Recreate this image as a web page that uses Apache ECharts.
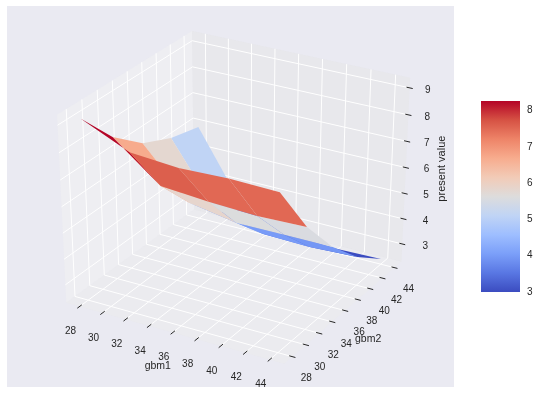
<!DOCTYPE html>
<html>
<head>
<meta charset="utf-8">
<title>present value surface</title>
<script src="https://cdn.jsdelivr.net/npm/echarts@6/dist/echarts.min.js"></script>
<style>
  html, body { margin: 0; padding: 0; background: #fff; }
  #chart { width: 539px; height: 394px; }
</style>
</head>
<body>
<div id="chart"></div>
<script>
const gbm1Values = [28, 32, 36, 40, 44];
const gbm2Values = [28, 32, 36, 40, 44];

// present value, one row per gbm2 value
const presentValue = [
  [9.15, 8.36, 8.22, 8.28, 8.24],
  [7.76, 6.36, 6.21, 6.14, 6.19],
  [6.79, 4.93, 4.61, 4.62, 4.62],
  [6.27, 3.75, 3.37, 3.33, 3.41],
  [5.98, 3.15, 2.60, 2.45, 2.50]
];

// colour value of every facet
const facetValues = [
  [8.26, 7.60, 7.50, 7.50],
  [6.70, 5.85, 5.60, 5.55],
  [5.80, 4.10, 4.00, 3.95],
  [5.10, 3.60, 3.40, 3.00]
];

const xTicks = [28, 30, 32, 34, 36, 38, 40, 42, 44];
const yTicks = [28, 30, 32, 34, 36, 38, 40, 42, 44];
const zTicks = [3, 4, 5, 6, 7, 8, 9];
const colorbarTicks = [3, 4, 5, 6, 7, 8];
const coolwarm = ['#3b4cc0', '#5977e3', '#7b9ff9', '#9ebeff', '#c0d4f5', '#dddcdc', '#f2cbb7', '#f7ac8e', '#ee8468', '#d65244', '#b40426'];

const xLim = [27.2, 44.8];
const yLim = [27.2, 44.8];
const zLim = [2.43, 9.23];
const cbarMin = 3;
const cbarMax = 8.26;
const textColor = '#262626';
const fontFamily = '"Liberation Sans", Arial, sans-serif';

// same camera as a default mplot3d view
const elev = 30 * Math.PI / 180;
const azim = -60 * Math.PI / 180;
const dist = 10;
const n = [Math.cos(elev) * Math.cos(azim), Math.cos(elev) * Math.sin(azim), Math.sin(elev)];
const u = [-n[1], n[0], 0].map(v => v / Math.hypot(n[0], n[1]));
const v = [n[1] * u[2] - n[2] * u[1], n[2] * u[0] - n[0] * u[2], n[0] * u[1] - n[1] * u[0]];
const dot = (a, b) => a[0] * b[0] + a[1] * b[1] + a[2] * b[2];

const toWorld = p => [
  (p[0] - xLim[0]) / (xLim[1] - xLim[0]) - 0.5,
  (p[1] - yLim[0]) / (yLim[1] - yLim[0]) - 0.5,
  (p[2] - zLim[0]) / (zLim[1] - zLim[0]) - 0.5
];
const project = p => {
  const d = toWorld(p);
  const w = dist - dot(d, n);
  return [dot(d, u) / w, dot(d, v) / w];
};

// panes stick out of the limits by 1/48 of the range
const pad = lim => (lim[1] - lim[0]) / 48;
const x0 = xLim[0] - pad(xLim), x1 = xLim[1] + pad(xLim);
const y0 = yLim[0] - pad(yLim), y1 = yLim[1] + pad(yLim);
const z0 = zLim[0] - pad(zLim), z1 = zLim[1] + pad(zLim);

const panes = [
  { color: 'rgba(242,242,242,0.5)', pts: [[x0, y0, z0], [x0, y1, z0], [x0, y1, z1], [x0, y0, z1]] },
  { color: 'rgba(230,230,230,0.5)', pts: [[x0, y1, z0], [x1, y1, z0], [x1, y1, z1], [x0, y1, z1]] },
  { color: 'rgba(236,236,236,0.5)', pts: [[x0, y0, z0], [x1, y0, z0], [x1, y1, z0], [x0, y1, z0]] }
];

const gridLines = [
  ...xTicks.map(t => [[t, y0, z0], [t, y1, z0], [t, y1, z1]]),
  ...yTicks.map(t => [[x1, t, z0], [x0, t, z0], [x0, t, z1]]),
  ...zTicks.map(t => [[x0, y0, t], [x0, y1, t], [x1, y1, t]])
];

const tickMarks = [
  ...xTicks.map(t => [[t, y0 + 0.3, z0], [t, y0 - 0.3, z0]]),
  ...yTicks.map(t => [[x1 - 0.25, t, z0], [x1 + 0.25, t, z0]]),
  ...zTicks.map(t => [[x1 - 0.25, y1, t], [x1 + 0.25, y1, t]])
];

const tickLabels = [
  ...xTicks.map(t => ({ text: String(t), at: [t, y0, z0], dx: -9, dy: 25, size: 10 })),
  ...yTicks.map(t => ({ text: String(t), at: [x1, t, z0], dx: 14, dy: 22, size: 10 })),
  ...zTicks.map(t => ({ text: String(t), at: [x1, y1, t], dx: 23 - (t - 3) * 0.8, dy: 2, size: 10 }))
];

const axisTitles = [
  { text: 'gbm1', at: [36, y0, z0], dx: -15, dy: 34, rotation: 0, size: 10.5 },
  { text: 'gbm2', at: [x1, 36, z0], dx: 23, dy: 28, rotation: 0, size: 10.5 },
  { text: 'present value', at: [x1, y1, 6], dx: 36, dy: 1, rotation: Math.PI / 2, size: 11 }
];

const valueColor = value => {
  const t = Math.min(1, Math.max(0, (value - cbarMin) / (cbarMax - cbarMin))) * (coolwarm.length - 1);
  const i = Math.min(coolwarm.length - 2, Math.floor(t));
  return echarts.color.lerp(t - i, [coolwarm[i], coolwarm[i + 1]]);
};

const facets = [];
for (let j = 0; j < gbm2Values.length - 1; j++) {
  for (let i = 0; i < gbm1Values.length - 1; i++) {
    const pts = [[i, j], [i + 1, j], [i + 1, j + 1], [i, j + 1]].map(([a, b]) => [gbm1Values[a], gbm2Values[b], presentValue[b][a]]);
    const depth = pts.reduce((s, p) => s + dot(toWorld(p), n), 0) / 4;
    facets.push({ pts, depth, color: valueColor(facetValues[j][i]) });
  }
}
// far facets first, near ones paint over them
facets.sort((a, b) => a.depth - b.depth);

const indexData = arr => arr.map((_, i) => [i]);
const custom = (list, renderItem, z) => ({
  type: 'custom',
  data: indexData(list),
  renderItem,
  clip: false,
  silent: true,
  z,
  xAxisIndex: 0,
  yAxisIndex: 0
});
const polyline3d = api => pts => pts.map(p => api.coord(project(p)));

const renderLabel = list => (params, api) => {
  const item = list[params.dataIndex];
  const pos = api.coord(project(item.at));
  return {
    type: 'text',
    x: pos[0] + item.dx,
    y: pos[1] + item.dy,
    rotation: item.rotation || 0,
    style: { text: item.text, fill: textColor, fontSize: item.size, fontFamily, align: 'center', verticalAlign: 'middle' }
  };
};

const chart = echarts.init(document.getElementById('chart'), null, { renderer: 'canvas' });
chart.setOption({
  animation: false,
  grid: [
    { left: 7, top: 6, width: 447, height: 381, show: true, backgroundColor: '#EAEAF2', borderWidth: 0 },
    { left: 481, top: 101, width: 39, height: 191 }
  ],
  xAxis: [
    { type: 'value', gridIndex: 0, min: -0.095, max: 0.09, show: false },
    { type: 'value', gridIndex: 1, min: 0, max: 1, show: false }
  ],
  yAxis: [
    { type: 'value', gridIndex: 0, min: -0.095, max: 0.09, show: false },
    {
      type: 'value',
      gridIndex: 1,
      position: 'right',
      min: cbarMin,
      max: cbarMax,
      axisLine: { show: false },
      axisTick: { show: false },
      splitLine: { show: false },
      axisLabel: { customValues: colorbarTicks, color: textColor, fontSize: 10, fontFamily, margin: 7 }
    }
  ],
  series: [
    custom(panes, (params, api) => ({
      type: 'polygon',
      shape: { points: polyline3d(api)(panes[params.dataIndex].pts) },
      style: { fill: panes[params.dataIndex].color }
    }), 1),
    custom(gridLines, (params, api) => ({
      type: 'polyline',
      shape: { points: polyline3d(api)(gridLines[params.dataIndex]) },
      style: { stroke: '#fff', lineWidth: 1, fill: null }
    }), 2),
    custom(tickMarks, (params, api) => ({
      type: 'polyline',
      shape: { points: polyline3d(api)(tickMarks[params.dataIndex]) },
      style: { stroke: textColor, lineWidth: 1, fill: null }
    }), 3),
    custom(tickLabels, renderLabel(tickLabels), 3),
    custom(axisTitles, renderLabel(axisTitles), 3),
    custom(facets, (params, api) => ({
      type: 'polygon',
      shape: { points: polyline3d(api)(facets[params.dataIndex].pts) },
      style: { fill: facets[params.dataIndex].color }
    }), 4),
    {
      type: 'custom',
      xAxisIndex: 1,
      yAxisIndex: 1,
      silent: true,
      data: [[0, cbarMax]],
      renderItem: (params, api) => {
        const topLeft = api.coord([0, cbarMax]);
        const bottomRight = api.coord([1, cbarMin]);
        return {
          type: 'rect',
          shape: { x: topLeft[0], y: topLeft[1], width: bottomRight[0] - topLeft[0], height: bottomRight[1] - topLeft[1] },
          style: {
            fill: new echarts.graphic.LinearGradient(0, 1, 0, 0, coolwarm.map((color, i) => ({ offset: i / (coolwarm.length - 1), color })))
          }
        };
      }
    }
  ]
});
</script>
</body>
</html>
